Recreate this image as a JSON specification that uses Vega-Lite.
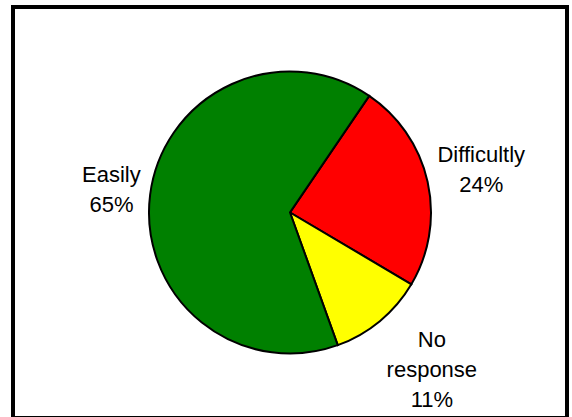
{
  "$schema": "https://vega.github.io/schema/vega-lite/v6.json",
  "width": 554,
  "height": 411,
  "autosize": {"type": "none"},
  "padding": {"left": 13, "top": 7, "right": 5, "bottom": 0},
  "background": "white",
  "view": {"stroke": "black", "strokeWidth": 4, "fill": "white"},
  "data": {
    "values": [
      {"category": "Difficultly", "value": 24, "label": "Difficultly\n24%"},
      {"category": "No response", "value": 11, "label": "No\nresponse\n11%"},
      {"category": "Easily", "value": 65, "label": "Easily\n65%"}
    ]
  },
  "encoding": {
    "theta": {"field": "value", "type": "quantitative", "stack": true, "scale": {"range": [2.105, 8.388]}},
    "order": {"field": "category", "sort": "descending"}
  },
  "layer": [
    {
      "mark": {"type": "arc", "outerRadius": 141, "stroke": "black", "strokeWidth": 2},
      "encoding": {
        "color": {"field": "category", "type": "nominal", "legend": null,
          "scale": {"domain": ["Easily", "Difficultly", "No response"], "range": ["#008000", "#ff0000", "#ffff00"]}}
      }
    },
    {
      "mark": {"type": "text", "font": "Liberation Sans", "fontSize": 22, "lineHeight": 30, "lineBreak": "\n", "align": "center", "baseline": "middle", "color": "black",
        "radius": {"expr": "datum.category === 'Easily' ? 180 : datum.category === 'Difficultly' ? 196 : 210"},
        "dx": {"expr": "datum.category === 'No response' ? 8 : 0"},
        "dy": {"expr": "datum.category === 'No response' ? -34 : -15"}},
      "encoding": {
        "text": {"field": "label"}
      }
    }
  ]
}
